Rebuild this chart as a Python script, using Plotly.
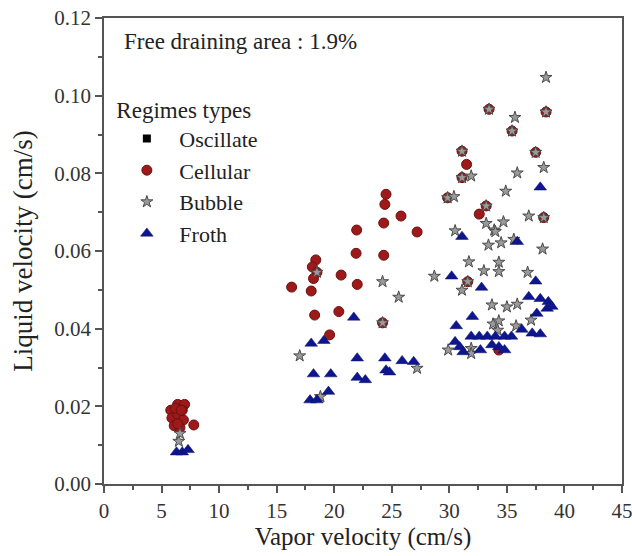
import plotly.graph_objects as go

# ---- data ----
osc_x = [None]
osc_y = [None]

cell_x = [5.8, 6.4, 7.0, 5.9, 6.4, 6.9, 6.1, 6.6, 7.8, 6.8, 6.4, 6.2, 6.7,
          16.3, 18.0, 18.4, 18.1, 18.5, 18.2, 20.6, 22.0, 21.9, 24.3, 18.3, 20.4,
          24.2, 19.6, 24.5, 24.4, 25.8, 24.3, 21.95, 27.2,
          33.45, 38.4, 35.45, 31.1, 37.5, 31.5, 31.1, 29.85, 33.2, 32.6, 38.2,
          31.6, 34.3]
cell_y = [0.0190, 0.0205, 0.0205, 0.0170, 0.0178, 0.0165, 0.0150, 0.0145, 0.0152,
          0.0190, 0.0155, 0.0195, 0.0190,
          0.0507, 0.0497, 0.0577, 0.0559, 0.0545, 0.0529, 0.0538, 0.0514, 0.0594,
          0.0589, 0.0435, 0.0444, 0.0415, 0.0384, 0.0746, 0.0720, 0.0690, 0.0672,
          0.0654, 0.0649,
          0.0965, 0.0958, 0.0909, 0.0857, 0.0854, 0.0823, 0.0789, 0.0737, 0.0716,
          0.0695, 0.0686, 0.0521, 0.0345]

bub_x = [18.5, 24.2, 33.45, 38.4, 35.45, 31.1, 37.5, 31.1, 29.85, 33.2, 38.2, 31.6,
         6.5, 6.6, 17.0, 18.8, 27.2, 24.2, 25.6, 28.7,
         38.4, 35.7, 35.9, 38.2, 31.9, 34.9, 30.4, 36.9, 33.2, 33.9, 34.7, 30.5,
         34.0, 33.4, 34.5, 35.6, 38.1, 31.7, 34.3, 34.3, 33.0, 36.8, 31.1, 33.7,
         35.0, 35.9, 33.8, 34.3, 34.2, 35.8, 37.1, 29.9, 31.9, 31.9]
bub_y = [0.0545, 0.0415, 0.0965, 0.0958, 0.0909, 0.0857, 0.0854, 0.0789, 0.0737,
         0.0716, 0.0686, 0.0521,
         0.0110, 0.0130, 0.0330, 0.0225, 0.0298, 0.0521, 0.0481, 0.0535,
         0.1047, 0.0944, 0.0801, 0.0815, 0.0793, 0.0754, 0.0740, 0.0690, 0.0671,
         0.0654, 0.0675, 0.0652, 0.0650, 0.0615, 0.0621, 0.0630, 0.0605, 0.0572,
         0.0571, 0.0547, 0.0549, 0.0545, 0.0499, 0.0461, 0.0456, 0.0463, 0.0412,
         0.0420, 0.0396, 0.0407, 0.0422, 0.0345, 0.0349, 0.0336]

froth_x = [6.3, 6.8, 7.3,
           17.9, 18.5, 19.5, 18.2, 19.7, 22.0, 22.7, 24.5, 24.8, 18.0, 19.1, 21.7,
           22.0, 24.4, 25.9, 26.9,
           31.1, 35.9, 37.9, 30.2, 37.5, 32.8, 36.9, 37.9, 38.6, 38.5, 38.9, 37.6,
           32.0, 30.6, 36.3, 37.2, 37.9, 31.9, 32.6, 33.3, 34.0, 34.8, 35.4, 30.5,
           30.9, 31.2, 32.7, 34.3, 34.8, 33.7]
froth_y = [0.0082, 0.0082, 0.0088,
           0.0216, 0.0216, 0.0238, 0.0283, 0.0283, 0.0274, 0.0268, 0.0293, 0.0288,
           0.0362, 0.0369, 0.0429, 0.0324, 0.0324, 0.0317, 0.0315,
           0.0637, 0.0624, 0.0764, 0.0535, 0.0522, 0.0506, 0.0482, 0.0477, 0.0469,
           0.0452, 0.0457, 0.0439, 0.0431, 0.0407, 0.0398, 0.0388, 0.0386, 0.0380,
           0.0380, 0.0380, 0.0380, 0.0380, 0.0380, 0.0366, 0.0353, 0.0340, 0.0345,
           0.0353, 0.0345, 0.0358]

x_ticks = [0, 5, 10, 15, 20, 25, 30, 35, 40, 45]
y_ticks = [0.00, 0.02, 0.04, 0.06, 0.08, 0.10, 0.12]
y_tick_text = ["0.00", "0.02", "0.04", "0.06", "0.08", "0.10", "0.12"]

FONT = "Liberation Serif"
AXIS_COLOR = "#555555"
TEXT = "#222222"

fig = go.Figure()
fig.add_trace(go.Scatter(x=osc_x, y=osc_y, mode="markers", name="Oscillate",
                         marker=dict(symbol="square", size=8, color="black")))
fig.add_trace(go.Scatter(x=cell_x, y=cell_y, mode="markers", name="Cellular",
                         marker=dict(symbol="circle", size=10, color="#9E1A1A",
                                     line=dict(color="#6E1010", width=1))))
fig.add_trace(go.Scatter(x=bub_x, y=bub_y, mode="markers", name="Bubble",
                         marker=dict(symbol="star", size=9, color="#9A9A9A",
                                     line=dict(color="#4A4A4A", width=1))))
fig.add_trace(go.Scatter(x=froth_x, y=froth_y, mode="markers", name="Froth",
                         marker=dict(symbol="triangle-up", size=11, color="#0E168F",
                                     line=dict(color="#0A0F6A", width=0.5))))

axis_common = dict(
    showline=True, linecolor=AXIS_COLOR, linewidth=1.5, mirror=True,
    ticks="outside", ticklen=7, tickwidth=1.5, tickcolor=AXIS_COLOR,
    showgrid=False, zeroline=False, automargin=False,
    ticklabeloverflow="allow",
    tickfont=dict(family=FONT, size=21, color="#333333"),
)

fig.update_layout(
    width=632, height=556,
    margin=dict(l=104, r=10, t=18, b=72),
    paper_bgcolor="white", plot_bgcolor="white",
    font=dict(family=FONT, color=TEXT),
    showlegend=True,
    xaxis=dict(range=[0, 45], tickvals=x_ticks,
               minor=dict(ticks="outside", ticklen=4, tickwidth=1.5,
                          tickcolor=AXIS_COLOR, dtick=2.5, tick0=0),
               title=dict(text="Vapor velocity (cm/s)",
                          font=dict(family=FONT, size=25, color=TEXT),
                          standoff=6),
               **axis_common),
    yaxis=dict(range=[0, 0.12], tickvals=y_ticks, ticktext=y_tick_text,
               minor=dict(ticks="outside", ticklen=4, tickwidth=1.5,
                          tickcolor=AXIS_COLOR, dtick=0.01, tick0=0),
               title=dict(text="Liquid velocity (cm/s)",
                          font=dict(family=FONT, size=27, color=TEXT),
                          standoff=14),
               **axis_common),
    legend=dict(
        title=dict(text="Regimes types", font=dict(family=FONT, size=23, color=TEXT)),
        font=dict(family=FONT, size=22, color=TEXT),
        x=0.02, y=0.85, xanchor="left", yanchor="top",
        bgcolor="rgba(0,0,0,0)", itemwidth=55,
    ),
    annotations=[dict(text="Free draining area : 1.9%", xref="paper", yref="paper",
                      x=0.035, y=0.98, xanchor="left", yanchor="top", showarrow=False,
                      font=dict(family=FONT, size=23, color=TEXT))],
)

fig.write_html("out.html")
